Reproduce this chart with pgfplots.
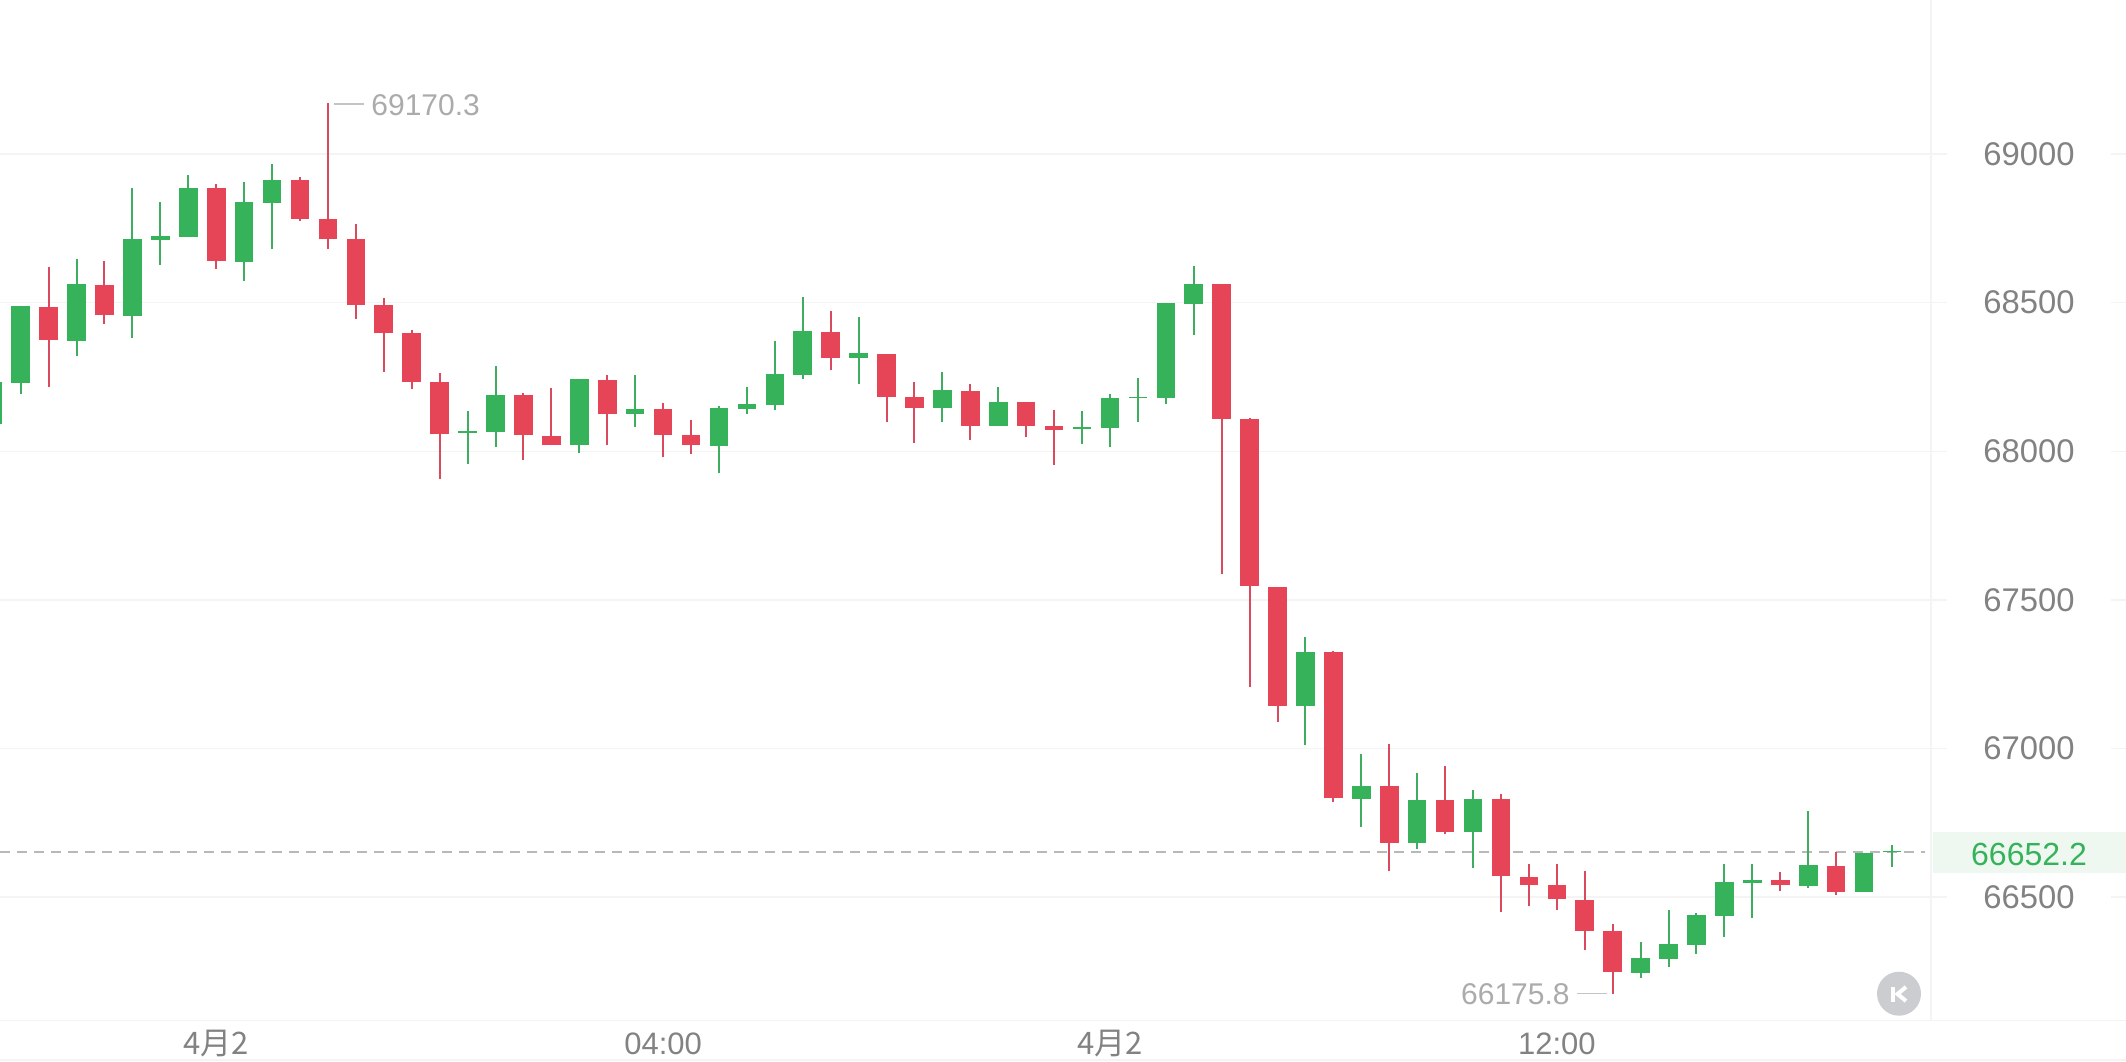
\documentclass[border=0pt]{standalone}
\usepackage{fontspec}
\setmainfont{Liberation Sans}
\newfontfamily\cjk{Noto Sans CJK SC}
\usepackage{pgfplots}
\usepackage{pgfplotstable}
\pgfplotsset{compat=1.18}
\definecolor{cgreen}{HTML}{36B25A}
\definecolor{cred}{HTML}{E64457}
\definecolor{wgreen}{HTML}{3FAD60}
\definecolor{wred}{HTML}{D94A5E}
\definecolor{gridc}{HTML}{F4F4F4}
\definecolor{axtext}{HTML}{828282}
\definecolor{antext}{HTML}{ABABAB}
\definecolor{badge}{HTML}{EEF8F1}
\definecolor{kbtn}{HTML}{CBCDD0}
\pgfplotstableread{
x lo b t hi
0 68085 68091 68232 68245
1 68192 68231 68489 68489
3 68322 68372 68563 68647
5 68382 68456 68713 68885
6 68626 68710 68725 68837
7 68722 68722 68887 68929
9 68574 68638 68839 68905
10 68679 68836 68913 68966
17 67958.5 68063 68068 68134.5
18 68016 68064 68189.5 68288
21 67993 68021 68242 68242
23 68082 68126 68142 68256
26 67926 68019 68146 68152
27 68124 68143.5 68160 68215
28 68139 68157 68260 68370
29 68242 68258 68405 68519
31 68227.5 68313 68331 68452
34 68100 68145 68206 68268
36 68084 68084 68166 68217
39 68023.5 68076 68081 68136
40 68013 68077 68180 68193
41 68100 68178 68183 68247
42 68160 68180 68498 68498
43 68391 68495 68563 68623
47 67012 67143 67326 67377
49 66735 66832 66874 66981
51 66661 66681.5 66828 66918
53 66600 66720 66831 66861
59 66230 66246.5 66296 66350
60 66266 66294 66343 66456
61 66310 66341 66440.5 66447
62 66366.5 66438 66550 66611
63 66431.5 66547 66558 66611
65 66532 66539 66609 66789
67 66518 66518 66650 66650
68 66603 66651 66656 66676
}\greendata
\pgfplotstableread{
x lo b t hi
2 68217.5 68373 68487 68619
4 68429 68457 68561 68639
8 68612 68639 68886 68898
11 68776 68782.5 68911 68922
12 68682 68713 68782.5 69170.3
13 68446 68493 68713 68763.5
14 68266 68397 68493 68516
15 68208.5 68233 68397 68408
16 67907 68059 68232 68262
19 67971 68054 68188 68195
20 68022 68022 68053 68213
22 68021 68127 68240 68258
24 67982 68056 68141 68161
25 67992 68021 68055 68105
30 68272 68315 68402 68472
32 68099 68183 68328 68328
33 68029 68147 68182 68233
35 68039 68086 68204 68226
37 68047 68086 68165 68165
38 67955 68073 68084 68138
44 67588.5 68109 68562 68562
45 67206 67546 68107.5 68112
46 67091 67144.5 67545 67545
48 66820.5 66833 67325 67329.5
50 66588 66683 66873 67016
52 66712 66721 66827 66942
54 66452 66570.5 66829.5 66847
55 66472 66541 66568 66611
56 66457 66493 66540 66611
57 66322 66388 66492 66587
58 66175.8 66248 66387 66409
64 66521 66541 66558 66586
66 66508 66519 66606 66651
}\reddata
\begin{document}
\begin{tikzpicture}
\path[use as bounding box] (0,0) rectangle (1063pt,530.5pt);
\begin{axis}[
  at={(0,0)}, anchor=south west,
  scale only axis, width=1063pt, height=530.5pt,
  xmin=0.2589, xmax=76.378, ymin=65949.4, ymax=69518,
  axis line style={draw=none},
  major tick length=0pt,
  ymajorgrids, grid style={gridc, line width=0.8pt},
  ytick={66500,67000,67500,68000,68500,69000},
  yticklabels={66500,67000,67500,68000,68500,69000},
  scaled y ticks=false,
  yticklabel pos=right,
  yticklabel style={anchor=center, xshift=-48.5pt, text=axtext, font=\fontsize{16.4}{18}\selectfont,
     fill=white, inner xsep=18pt, inner ysep=1pt},
  xtick={8,24,40,56},
  xticklabels={{\cjk 4月2},{04:00},{\cjk 4月2},{12:00}},
  xticklabel style={anchor=center, yshift=8.5pt, text=axtext, font=\fontsize{15.5}{18}\selectfont},
]
\addplot[forget plot, draw=antext!85!white, line width=0.9pt, dash pattern=on 5pt off 3.5pt]
  coordinates {(0.2589,66652.2) (69.18,66652.2)};
% wicks
\addplot[forget plot, draw=none, no marks,
  error bars/.cd, y dir=plus, y explicit, error mark=none,
  error bar style={wgreen, line width=1pt}]
  table[x=x, y=lo, y error plus expr=\thisrow{hi}-\thisrow{lo}] {\greendata};
\addplot[forget plot, draw=none, no marks,
  error bars/.cd, y dir=plus, y explicit, error mark=none,
  error bar style={wred, line width=1pt}]
  table[x=x, y=lo, y error plus expr=\thisrow{hi}-\thisrow{lo}] {\reddata};
% bodies
\addplot[forget plot, draw=none, no marks,
  error bars/.cd, y dir=plus, y explicit, error mark=none,
  error bar style={cgreen, line width=9.3pt}]
  table[x=x, y=b, y error plus expr=\thisrow{t}-\thisrow{b}] {\greendata};
\addplot[forget plot, draw=none, no marks,
  error bars/.cd, y dir=plus, y explicit, error mark=none,
  error bar style={cred, line width=9.3pt}]
  table[x=x, y=b, y error plus expr=\thisrow{t}-\thisrow{b}] {\reddata};
\end{axis}
\begin{scope}[x=0.5pt, y=-0.5pt, yshift=530.5pt]
  \fill[badge] (1933,832) rectangle (2126,873);
  \draw[gridc, line width=0.8pt] (1931,0) -- (1931,1020.5);
  \draw[gridc, line width=0.8pt] (0,1020.5) -- (2126,1020.5);
  \draw[gridc, line width=0.8pt] (0,1060) -- (2126,1060);
  \node[text=cgreen, font=\fontsize{16}{18}\selectfont, inner sep=0pt] at (2029,854) {66652.2};
  \node[text=antext, font=\fontsize{15}{18}\selectfont, inner sep=0pt, anchor=west] at (371,105) {69170.3};
  \draw[antext!70!white, line width=0.8pt] (334,104) -- (364,104);
  \node[text=antext, font=\fontsize{15}{18}\selectfont, inner sep=0pt, anchor=east] at (1570,994) {66175.8};
  \draw[antext!70!white, line width=0.8pt] (1577,993.5) -- (1607,993.5);
  \fill[kbtn] (1899,993.7) circle (22);
  \fill[white] (1890.5,987) rectangle (1895,1002);
  \draw[white, line width=2pt] (1906,987) -- (1897.5,994) -- (1906,1001);
\end{scope}
\end{tikzpicture}
\end{document}
